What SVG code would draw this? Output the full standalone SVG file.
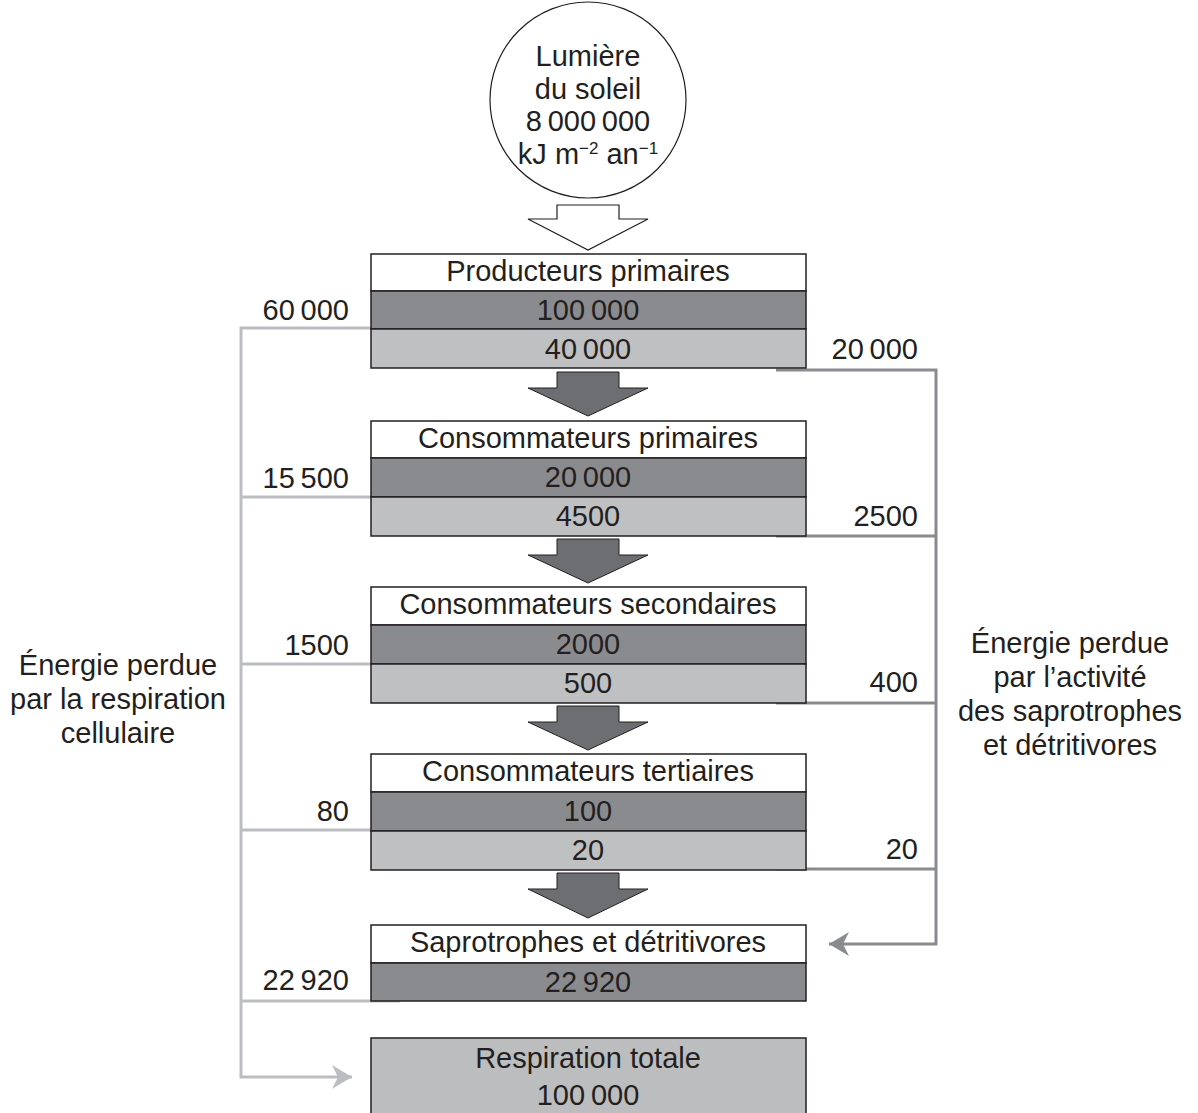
<svg xmlns="http://www.w3.org/2000/svg" width="1198" height="1113" viewBox="0 0 1198 1113">
<style>
text{font-family:"Liberation Sans",Arial,sans-serif;font-size:29px;fill:#231f20}
.c{text-anchor:middle}
.r{text-anchor:end}
.bw{fill:#ffffff;stroke:#231f20;stroke-width:1.5}
.bd{fill:#8a8b8e;stroke:#231f20;stroke-width:1.5}
.bl{fill:#bfc0c2;stroke:#231f20;stroke-width:1.5}
.ar{fill:#6d6e71;stroke:#231f20;stroke-width:1}
.lg{fill:none;stroke:#bcbdc0;stroke-width:3}
.dg{fill:none;stroke:#8a8b8e;stroke-width:3}
</style>
<defs>
<marker id="ahL" viewBox="0 0 20 24" refX="20" refY="12" markerWidth="20" markerHeight="24" markerUnits="userSpaceOnUse" orient="auto"><path d="M0,0 L20,12 L0,24 L6,12 Z" fill="#bcbdc0"/></marker>
<marker id="ahD" viewBox="0 0 20 24" refX="20" refY="12" markerWidth="20" markerHeight="24" markerUnits="userSpaceOnUse" orient="auto"><path d="M0,0 L20,12 L0,24 L6,12 Z" fill="#8a8b8e"/></marker>
</defs>
<g id="connectors">
<path class="lg" d="M400,328 H241 V1077 H352" marker-end="url(#ahL)"/>
<path class="lg" d="M241,497 H400"/>
<path class="lg" d="M241,664 H400"/>
<path class="lg" d="M241,830 H400"/>
<path class="lg" d="M241,1001 H400"/>
<path class="dg" d="M776,370 H936 V944 H829" marker-end="url(#ahD)"/>
<path class="dg" d="M776,536 H936"/>
<path class="dg" d="M776,703 H936"/>
<path class="dg" d="M776,869 H936"/>
<path class="ar" d="M557,372 H619 V388 H648 L588,416 L528,388 H557 Z"/>
<path class="ar" d="M557,539 H619 V555 H648 L588,583 L528,555 H557 Z"/>
<path class="ar" d="M557,706 H619 V722 H648 L588,750 L528,722 H557 Z"/>
<path class="ar" d="M557,873 H619 V889 H648 L588,918 L528,889 H557 Z"/>
<path d="M557,205 H619 V219 H648 L588,250 L528,219 H557 Z" fill="#fff" stroke="#231f20" stroke-width="1.2"/>
</g>
<g id="sun">
<circle cx="588" cy="100" r="98" fill="#fff" stroke="#231f20" stroke-width="1.2"/>
<text class="c" x="588" y="66">Lumière</text>
<text class="c" x="588" y="99">du soleil</text>
<text class="c" x="588" y="131">8&#8201;000&#8201;000</text>
<text class="c" x="588" y="164">kJ m<tspan font-size="17" dy="-10">−2</tspan><tspan dy="10"> an</tspan><tspan font-size="17" dy="-10">−1</tspan></text>
</g>
<g id="producteurs">
<rect class="bw" x="371" y="254" width="435" height="37"/>
<rect class="bd" x="371" y="291" width="435" height="38"/>
<rect class="bl" x="371" y="329" width="435" height="39"/>
<text class="c" x="588" y="281">Producteurs primaires</text>
<text class="c" x="588" y="320">100&#8201;000</text>
<text class="c" x="588" y="359">40&#8201;000</text>
</g>
<g id="consommateurs1">
<rect class="bw" x="371" y="421" width="435" height="37"/>
<rect class="bd" x="371" y="458" width="435" height="39"/>
<rect class="bl" x="371" y="497" width="435" height="39"/>
<text class="c" x="588" y="448">Consommateurs primaires</text>
<text class="c" x="588" y="487">20&#8201;000</text>
<text class="c" x="588" y="526">4500</text>
</g>
<g id="consommateurs2">
<rect class="bw" x="371" y="587" width="435" height="38"/>
<rect class="bd" x="371" y="625" width="435" height="39"/>
<rect class="bl" x="371" y="664" width="435" height="39"/>
<text class="c" x="588" y="614">Consommateurs secondaires</text>
<text class="c" x="588" y="654">2000</text>
<text class="c" x="588" y="693">500</text>
</g>
<g id="consommateurs3">
<rect class="bw" x="371" y="754" width="435" height="38"/>
<rect class="bd" x="371" y="792" width="435" height="39"/>
<rect class="bl" x="371" y="831" width="435" height="39"/>
<text class="c" x="588" y="781">Consommateurs tertiaires</text>
<text class="c" x="588" y="821">100</text>
<text class="c" x="588" y="860">20</text>
</g>
<g id="saprotrophes">
<rect class="bw" x="371" y="925" width="435" height="38"/>
<rect class="bd" x="371" y="963" width="435" height="38"/>
<text class="c" x="588" y="952">Saprotrophes et détritivores</text>
<text class="c" x="588" y="992">22&#8201;920</text>
</g>
<g id="respiration">
<rect x="371" y="1038" width="435" height="80" fill="#bcbdbf" stroke="#231f20" stroke-width="1.5"/>
<text class="c" x="588" y="1068">Respiration totale</text>
<text class="c" x="588" y="1105">100&#8201;000</text>
</g>
<g id="labels-left">
<text class="r" x="349" y="320">60&#8201;000</text>
<text class="r" x="349" y="488">15&#8201;500</text>
<text class="r" x="349" y="655">1500</text>
<text class="r" x="349" y="821">80</text>
<text class="r" x="349" y="990">22&#8201;920</text>
<text class="c" x="118" y="675">Énergie perdue</text>
<text class="c" x="118" y="709">par la respiration</text>
<text class="c" x="118" y="743">cellulaire</text>
</g>
<g id="labels-right">
<text class="r" x="918" y="359">20&#8201;000</text>
<text class="r" x="918" y="526">2500</text>
<text class="r" x="918" y="692">400</text>
<text class="r" x="918" y="859">20</text>
<text class="c" x="1070" y="653">Énergie perdue</text>
<text class="c" x="1070" y="687">par l’activité</text>
<text class="c" x="1070" y="721">des saprotrophes</text>
<text class="c" x="1070" y="755">et détritivores</text>
</g>
</svg>
